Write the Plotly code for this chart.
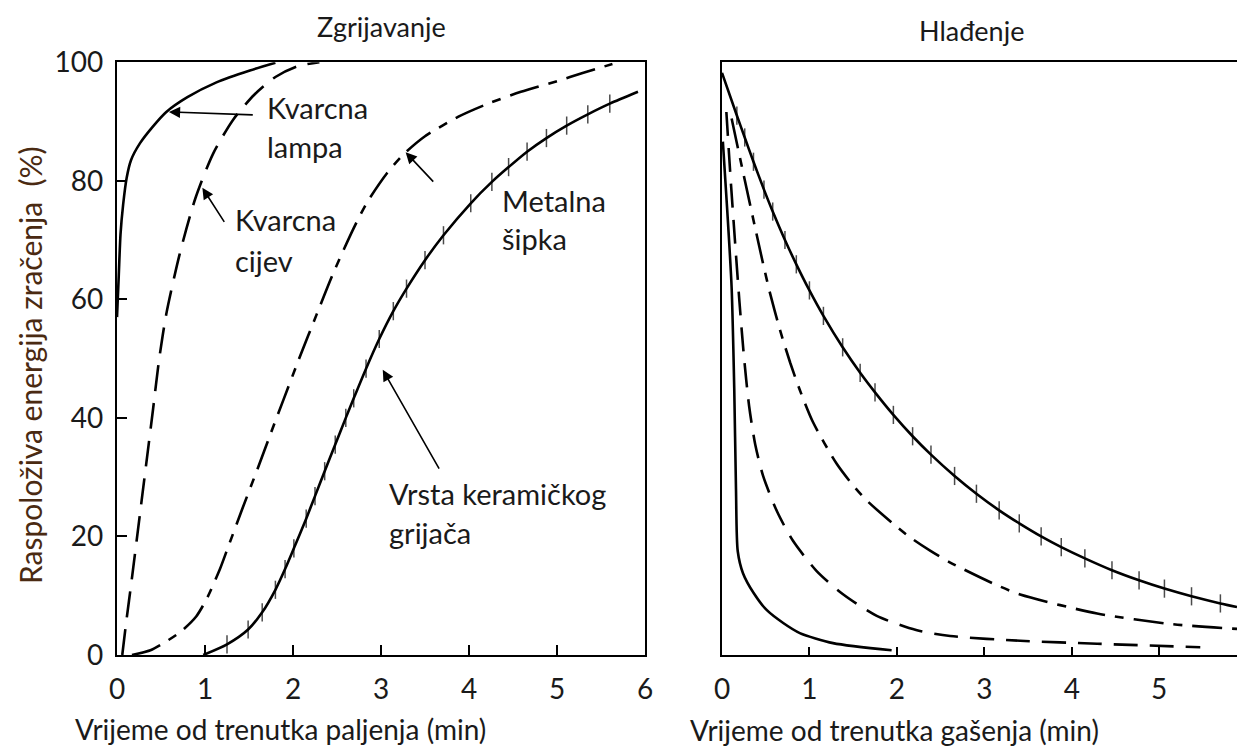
import plotly.graph_objects as go

# ---------------- data: heating (Zgrijavanje) ----------------
lamp_x = [0.0, 0.02, 0.04, 0.07, 0.11, 0.16, 0.26, 0.40, 0.56, 0.80, 1.13, 1.51, 1.80]
lamp_y = [57, 64, 71, 76, 80.5, 83.5, 86.3, 89, 91.6, 94.1, 96.6, 98.6, 99.9]

tube_x = [0.06, 0.10, 0.17, 0.25, 0.33, 0.41, 0.48, 0.56, 0.71, 0.89, 1.09, 1.32, 1.56, 1.80, 2.05, 2.30]
tube_y = [0, 5, 13, 22.5, 32, 41.5, 50, 57.5, 67.5, 77, 84.5, 90.3, 94.5, 97.5, 99.3, 100]

rod_x = [0.17, 0.38, 0.55, 0.73, 0.90, 1.02, 1.17, 1.27, 1.42, 1.60, 1.75, 1.89, 2.07, 2.27, 2.46,
         2.69, 2.84, 3.07, 3.26, 3.50, 3.88, 4.20, 4.59, 5.00, 5.30, 5.63]
rod_y = [0, 0.8, 2.2, 4.0, 6.5, 9.5, 14.5, 18.5, 24.5, 31.5, 37.5, 43, 50, 57.5, 64.5,
         72, 76.3, 81.3, 84.5, 87.5, 90.8, 92.9, 95, 96.8, 98.2, 99.7]

ceram_x = [0.98, 1.25, 1.49, 1.65, 1.80, 1.91, 2.01, 2.15, 2.25, 2.36, 2.48, 2.60, 2.69, 2.83,
           2.98, 3.14, 3.29, 3.50, 3.71, 4.02, 4.26, 4.45, 4.66, 4.88, 5.11, 5.35, 5.60, 5.92]
ceram_y = [0, 1.8, 4.3, 7.2, 11, 14.5, 18, 23, 26.8, 31, 35.5, 40, 43.3, 48.3,
           53.3, 58, 61.8, 66.6, 70.8, 76.2, 79.8, 82.3, 84.9, 87.2, 89.3, 91.2, 93, 95]

# ---------------- data: cooling (Hlađenje) ----------------
c_lamp_x = [0.01, 0.06, 0.11, 0.14, 0.16, 0.18, 0.24, 0.36, 0.51, 0.70, 0.89, 1.27, 1.94]
c_lamp_y = [86.6, 75, 62, 45, 28, 17.5, 13.8, 10.5, 7.6, 5.4, 3.7, 2.0, 0.8]

c_tube_x = [0.05, 0.10, 0.15, 0.20, 0.25, 0.31, 0.38, 0.47, 0.63, 0.81, 1.08, 1.38, 1.77, 2.22,
            2.61, 3.41, 4.29, 5.47]
c_tube_y = [91.6, 80, 69.5, 59.5, 50.5, 42, 35.5, 30.2, 24.2, 19.3, 14.2, 10.3, 6.6, 4.2,
            3.2, 2.4, 1.9, 1.3]

c_rod_x = [0.11, 0.24, 0.38, 0.47, 0.55, 0.66, 0.78, 0.89, 1.04, 1.31, 1.50, 1.66, 2.11, 2.38,
           2.61, 3.11, 3.41, 4.29, 5.15, 5.89]
c_rod_y = [90.5, 81.5, 72, 66, 61, 55, 49.3, 44.7, 39.3, 32.3, 28.6, 26, 20.3, 17.6,
           15.6, 12, 10.2, 7, 5.2, 4.4]

c_ceram_x = [0.0, 0.17, 0.26, 0.36, 0.48, 0.58, 0.72, 0.85, 1.0, 1.16, 1.38, 1.58, 1.75, 1.96,
             2.18, 2.39, 2.66, 2.91, 3.17, 3.4, 3.65, 3.88, 4.15, 4.46, 4.77, 5.06, 5.37, 5.7, 5.89]
c_ceram_y = [98.2, 91.0, 87.3, 83.2, 78.5, 74.8, 70.0, 65.9, 61.5, 57.2, 51.9, 47.6, 44.3, 40.5,
             36.9, 33.8, 30.2, 27.2, 24.4, 22.2, 20.0, 18.2, 16.3, 14.3, 12.6, 11.2, 9.9, 8.7, 8.1]

x_ticks_left = [0, 1, 2, 3, 4, 5, 6]
x_ticks_right = [0, 1, 2, 3, 4, 5]
y_ticks = [0, 20, 40, 60, 80, 100]

FONT = "Lato"
INK = "#1a1a1a"
LW = 2.6

fig = go.Figure()


def curve(x, y, dash, xa, ya, hatch=False):
    kw = dict(x=x, y=y, xaxis=xa, yaxis=ya, showlegend=False, hoverinfo="skip",
              line=dict(color="black", width=LW, dash=dash, shape="spline", smoothing=0.7))
    if hatch:
        n = len(x)
        kw["mode"] = "lines+markers"
        kw["marker"] = dict(symbol="line-ns", size=[0] + [13] * (n - 2) + [0],
                            line=dict(color="black", width=1.5))
    else:
        kw["mode"] = "lines"
    fig.add_trace(go.Scatter(**kw))


curve(lamp_x, lamp_y, "solid", "x", "y")
curve(tube_x, tube_y, "26px,12px", "x", "y")
curve(rod_x, rod_y, "30px,10px,9px,10px", "x", "y")
curve(ceram_x, ceram_y, "solid", "x", "y", hatch=True)

curve(c_lamp_x, c_lamp_y, "solid", "x2", "y2")
curve(c_tube_x, c_tube_y, "24px,12px", "x2", "y2")
curve(c_rod_x, c_rod_y, "30px,10px,9px,10px", "x2", "y2")
curve(c_ceram_x, c_ceram_y, "solid", "x2", "y2", hatch=True)

tickfont = dict(family=FONT, size=28, color=INK)
ydom = [0.1255, 0.917]

fig.update_layout(
    width=1237, height=749,
    margin=dict(l=0, r=0, t=0, b=0, pad=0),
    paper_bgcolor="white", plot_bgcolor="white",
    xaxis=dict(domain=[117 / 1237, 645 / 1237], range=[0, 6], tickvals=x_ticks_left, automargin=False,
               showgrid=False, zeroline=False, showline=True, mirror=True,
               linecolor="black", linewidth=2.2, ticks="inside", ticklen=10,
               tickwidth=2, tickcolor="black", tickfont=tickfont, ticklabelstandoff=8),
    yaxis=dict(domain=ydom, range=[0, 100], tickvals=y_ticks, anchor="x", automargin=False,
               showgrid=False, zeroline=False, showline=True, mirror=True,
               linecolor="black", linewidth=2.2, ticks="inside", ticklen=10,
               tickwidth=2, tickcolor="black", tickfont=tickfont, ticklabelstandoff=6),
    xaxis2=dict(domain=[722 / 1237, 1.0], range=[0, 5.89], tickvals=x_ticks_right, anchor="y2",
                automargin=False,
                showgrid=False, zeroline=False, showline=True, mirror=True,
                linecolor="black", linewidth=1.8, ticks="inside", ticklen=8,
                tickwidth=1.5, tickcolor="black", tickfont=tickfont, ticklabelstandoff=8),
    yaxis2=dict(domain=ydom, range=[0, 100], anchor="x2", showticklabels=False, automargin=False,
                showgrid=False, zeroline=False, showline=True, mirror=False,
                linecolor="black", linewidth=1.6, ticks=""),
)

ann = []
# panel titles
ann.append(dict(text="Zgrijavanje", x=381 / 1237, y=1 - 27 / 749, xref="paper", yref="paper",
                xanchor="center", yanchor="middle",
                showarrow=False, font=dict(family=FONT, size=27, color=INK)))
ann.append(dict(text="Hlađenje", x=971 / 1237, y=1 - 30 / 749, xref="paper", yref="paper",
                xanchor="center", yanchor="middle",
                showarrow=False, font=dict(family=FONT, size=27, color=INK)))
# axis titles
ann.append(dict(text="Vrijeme od trenutka paljenja (min)", x=73 / 1237, y=1 - 729 / 749,
                xref="paper", yref="paper", xanchor="left", yanchor="middle", showarrow=False,
                font=dict(family=FONT, size=28, color=INK)))
ann.append(dict(text="Vrijeme od trenutka gašenja (min)", x=688 / 1237, y=1 - 730 / 749,
                xref="paper", yref="paper", xanchor="left", yanchor="middle", showarrow=False,
                font=dict(family=FONT, size=28, color=INK)))
ann.append(dict(text="Raspoloživa energija zračenja  (%)", x=30 / 1237, y=1 - 365 / 749,
                xref="paper", yref="paper", xanchor="center", yanchor="middle",
                textangle=-90, showarrow=False,
                font=dict(family=FONT, size=30, color="#4a2a12")))

# curve labels
labels = [("Kvarcna", 1.68, 92.4), ("lampa", 1.68, 85.7),
          ("Kvarcna", 1.32, 73.4), ("cijev", 1.32, 66.6),
          ("Metalna", 4.35, 76.7), ("šipka", 4.35, 70.3),
          ("Vrsta keramičkog", 3.07, 27.3), ("grijača", 3.07, 20.6)]
for t, lx, ly in labels:
    ann.append(dict(text=t, x=lx, y=ly, xref="x", yref="y", xanchor="left", yanchor="middle",
                    showarrow=False, font=dict(family=FONT, size=29, color=INK)))

# arrows (tail -> head)
arrows = [((1.56, 91.1), (0.59, 91.6)),
          ((1.23, 72.8), (0.97, 78.8)),
          ((3.61, 79.6), (3.28, 84.8)),
          ((3.67, 31.2), (3.02, 48.1))]
for (tx, ty), (hx, hy) in arrows:
    ann.append(dict(text="", x=hx, y=hy, ax=tx, ay=ty, xref="x", yref="y", axref="x", ayref="y",
                    showarrow=True, arrowhead=2, arrowsize=1.4, arrowwidth=1.6, arrowcolor="black",
                    standoff=0))

fig.update_layout(annotations=ann)
fig.write_html("out.html", config={"displayModeBar": False},
               post_script="document.body.style.margin='0';document.body.style.overflow='hidden';")
